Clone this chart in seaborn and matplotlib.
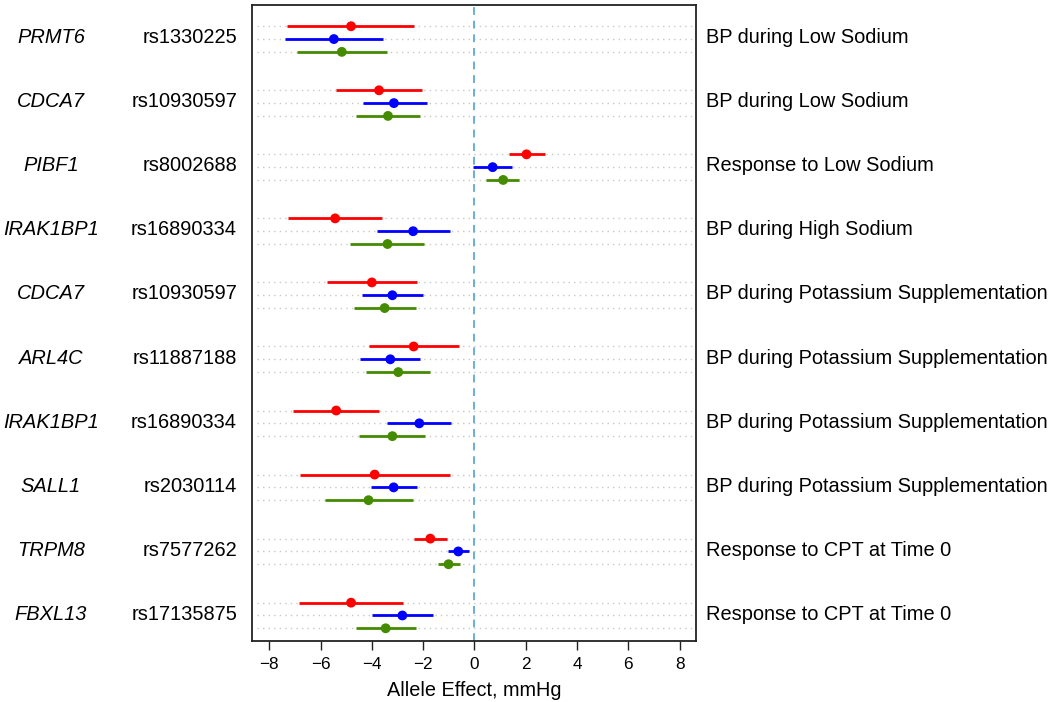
import numpy as np
import pandas as pd
import matplotlib
matplotlib.use("Agg")
import matplotlib.pyplot as plt
import matplotlib.transforms as mtransforms
import seaborn as sns

genes = ["PRMT6", "CDCA7", "PIBF1", "IRAK1BP1", "CDCA7", "ARL4C",
         "IRAK1BP1", "SALL1", "TRPM8", "FBXL13"]
snps = ["rs1330225", "rs10930597", "rs8002688", "rs16890334", "rs10930597",
        "rs11887188", "rs16890334", "rs2030114", "rs7577262", "rs17135875"]
phenos = ["BP during Low Sodium", "BP during Low Sodium", "Response to Low Sodium",
          "BP during High Sodium", "BP during Potassium Supplementation",
          "BP during Potassium Supplementation", "BP during Potassium Supplementation",
          "BP during Potassium Supplementation", "Response to CPT at Time 0",
          "Response to CPT at Time 0"]

# per group: (red, blue, green)
est_red   = [-4.81, -3.72, 2.03, -5.43, -4.00, -2.37, -5.39, -3.89, -1.72, -4.81]
lo_red    = [-7.30, -5.39, 1.33, -7.26, -5.74, -4.10, -7.06, -6.82, -2.36, -6.85]
hi_red    = [-2.35, -2.06, 2.75, -3.61, -2.24, -0.59, -3.71, -0.94, -1.07, -2.78]
est_blue  = [-5.48, -3.14, 0.71, -2.39, -3.20, -3.28, -2.15, -3.15, -0.63, -2.81]
lo_blue   = [-7.40, -4.36, -0.07, -3.79, -4.37, -4.45, -3.40, -4.04, -1.05, -3.98]
hi_blue   = [-3.57, -1.86, 1.46, -0.94, -2.02, -2.11, -0.90, -2.25, -0.23, -1.63]
est_green = [-5.17, -3.37, 1.12, -3.39, -3.50, -2.97, -3.20, -4.13, -1.01, -3.46]
lo_green  = [-6.93, -4.61, 0.47, -4.84, -4.71, -4.23, -4.49, -5.83, -1.42, -4.62]
hi_green  = [-3.40, -2.14, 1.75, -1.96, -2.27, -1.72, -1.92, -2.40, -0.58, -2.28]

series = ["red", "blue", "green"]
colors = {"red": "#FF0000", "blue": "#0000FF", "green": "#458B00"}

rows = []
for g in range(len(genes)):
    for r, (s, e, lo, hi) in enumerate(zip(
            series,
            [est_red[g], est_blue[g], est_green[g]],
            [lo_red[g], lo_blue[g], lo_green[g]],
            [hi_red[g], hi_blue[g], hi_green[g]])):
        rows.append(dict(group=g, series=s, y=g * 5 + r, est=e, lo=lo, hi=hi))
df = pd.DataFrame(rows)

sns.set_style("white")
plt.rcParams["font.family"] = ["Liberation Sans", "DejaVu Sans"]
plt.rcParams["text.color"] = "black"
plt.rcParams["axes.labelcolor"] = "black"
plt.rcParams["xtick.color"] = "black"

fig = plt.figure(figsize=(10.5, 7.02), dpi=100)
ax = fig.add_axes([0.2403, 0.0873, 0.4226, 0.9056])

# dotted guide lines
ax.hlines(df["y"], -8.48, 8.65, colors="#c8c8c8", linestyles=(0, (1, 3)),
          linewidth=1.0, zorder=1)
# zero line
ax.axvline(0, color="#6BAED6", linestyle=(0, (4, 3)), linewidth=1.4, zorder=1)

# CI lines
for s in series:
    sub = df[df["series"] == s]
    ax.hlines(sub["y"], sub["lo"], sub["hi"], colors=colors[s], linewidth=2.0,
              zorder=2)

sns.scatterplot(data=df, x="est", y="y", hue="series", palette=colors,
                s=50, edgecolor="none", legend=False, ax=ax, zorder=3)

ax.set_xlim(-8.66, 8.64)
ax.set_ylim(47.97, -1.66)
ax.set_xticks(np.arange(-8, 9, 2))
ax.set_yticks([])
ax.set_ylabel("")
ax.set_xlabel("Allele Effect, mmHg", fontsize=14.3, labelpad=7, color="black")
ax.tick_params(axis="x", direction="out", length=6.5, width=1.0,
               labelsize=12.3, pad=5, bottom=True, color="#222222",
               labelcolor="black")
for sp in ax.spines.values():
    sp.set_color("#222222")
    sp.set_linewidth(1.3)

trans = mtransforms.blended_transform_factory(ax.transAxes, ax.transData)
for g in range(len(genes)):
    yb = g * 5 + 1 - 0.1
    ax.text(-0.4537, yb, genes[g], transform=trans, ha="center", va="center",
            fontsize=14.4, style="italic", color="black", clip_on=False)
    ax.text(-0.0345, yb, snps[g], transform=trans, ha="right", va="center",
            fontsize=14.4, color="black", clip_on=False)
    ax.text(1.0225, yb, phenos[g], transform=trans, ha="left", va="center",
            fontsize=14.4, color="black", clip_on=False)

fig.savefig("out.png", dpi=100)
